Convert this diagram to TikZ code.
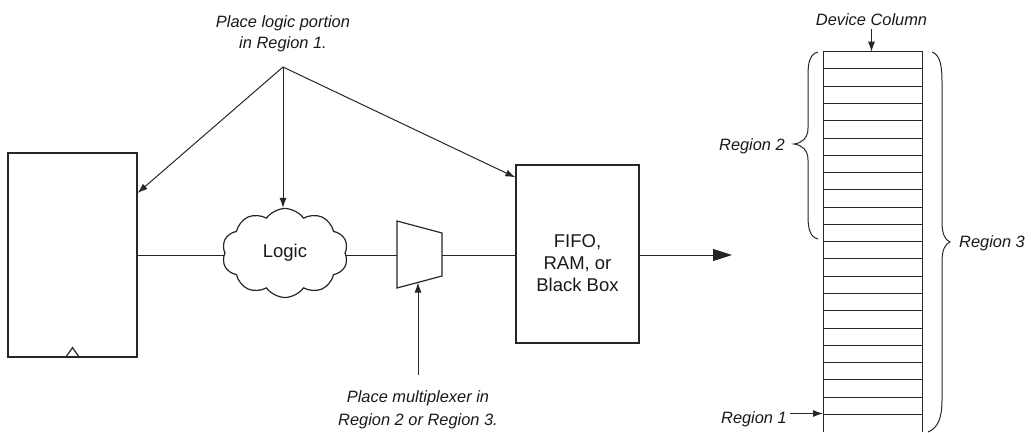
\documentclass[tikz,border=0pt]{standalone}
\usepackage{fontspec}
\setmainfont{Liberation Sans}
\usetikzlibrary{shapes.symbols,arrows.meta}
\tikzset{
  ink/.style={draw=black!85},
  conn/.style={ink, line width=1pt},
  arr/.style={conn, -{Latex[length=10pt,width=7pt]}},
  bigarr/.style={conn, -{Triangle[length=19pt,width=12pt]}},
  blk/.style={ink, line width=1.2pt, inner sep=0pt},
  itxt/.style={font=\fontsize{16.4}{21}\selectfont\itshape, text=black!90, inner sep=0pt, align=center},
  rtxt/.style={font=\fontsize{18.5}{22}\selectfont, text=black!90, inner sep=0pt, align=center},
}
\begin{document}
\begin{tikzpicture}[x=1pt,y=-1pt]
\useasboundingbox (0,0) rectangle (1031,432);

% left register block
\node[blk, draw, minimum width=129pt, minimum height=204pt] (reg) at (72.5,255) {};
\draw[blk] ([xshift=-7pt]reg.south) -- ([yshift=10pt]reg.south) -- ([xshift=7pt]reg.south);

% logic cloud
\node[cloud, blk, draw, cloud puffs=10, cloud puff arc=110, aspect=1.4,
      minimum width=126pt, minimum height=89pt, rtxt] (logic) at (285,253) {Logic};

% multiplexer
\coordinate (muxL) at (397,255);
\coordinate (muxR) at (442,255);
\coordinate (muxB) at (418,282.5);
\draw[blk, line join=miter] (397,221) -- (442,233) -- (442,276) -- (397,288) -- cycle;

% FIFO block
\node[blk, draw, minimum width=123pt, minimum height=178pt] (fifo) at (577.5,254) {};
\node[rtxt, anchor=north] (fifotxt) at (577.5,234) {FIFO,\\RAM, or\\Black Box};

% connections along the data path
\draw[conn] (reg.east) -- (reg.east -| logic.west);
\draw[conn] (logic.east |- muxL) -- (muxL);
\draw[conn] (muxR) -- (muxR -| fifo.west);
\coordinate (out) at (732,255);
\draw[bigarr] (fifo.east |- out) -- (out);

% top annotation
\node[itxt, anchor=north] (top) at (283,15) {Place logic portion\\in Region 1.};
\coordinate (apex) at (283,67);
\draw[arr] (apex) -- ([yshift=62pt]reg.east);
\draw[arr] (apex) -- (apex |- logic.north);
\draw[arr] (apex) -- ([yshift=-13pt]fifo.north west);

% bottom annotation
\node[itxt, anchor=north, font=\fontsize{16.4}{23}\selectfont\itshape] (bot) at (418,390) {Place multiplexer in\\Region 2 or Region 3.};
\coordinate (muxsrc) at (418,375);
\draw[arr] (muxsrc) -- (muxB);

% device column
\draw[conn] (823,432) -- (823,51.7) -- (922,51.7) -- (922,432);
\foreach \k in {1,...,21}{
  \draw[conn] (823,51.7+17.27*\k) -- (922,51.7+17.27*\k);
}
\coordinate (coltop) at (871.5,51.7);
\node[itxt, anchor=base] (dc) at (871.5,25) {Device Column};
\draw[arr] ([yshift=-4pt]dc.south) -- (coltop);

% Region 1
\node[itxt, anchor=base east] (r1) at (787,423) {Region 1};
\coordinate (r1tip) at (823,413.5);
\coordinate (r1s) at ([xshift=3pt]r1.east);
\draw[arr] (r1s |- r1tip) -- (r1tip);

% Region 2 brace
\node[itxt, anchor=base east] (r2) at (785,150) {Region 2};
\draw[conn] (818,52) .. controls (810,54) and (808,62) .. (808,75) -- (808,128)
  .. controls (808,138) and (802,143) .. (794,144)
  .. controls (802,145) and (808,150) .. (808,160) -- (808,216)
  .. controls (808,229) and (810,237) .. (818,239);

% Region 3 brace
\node[itxt, anchor=base west] (r3) at (959,247) {Region 3};
\draw[conn] (932,52) .. controls (940,55) and (942,65) .. (942,82) -- (942,222)
  .. controls (942,234) and (945,240) .. (950,242)
  .. controls (945,244) and (942,250) .. (942,262) -- (942,400)
  .. controls (942,418) and (938,428) .. (928,432);
\end{tikzpicture}
\end{document}
